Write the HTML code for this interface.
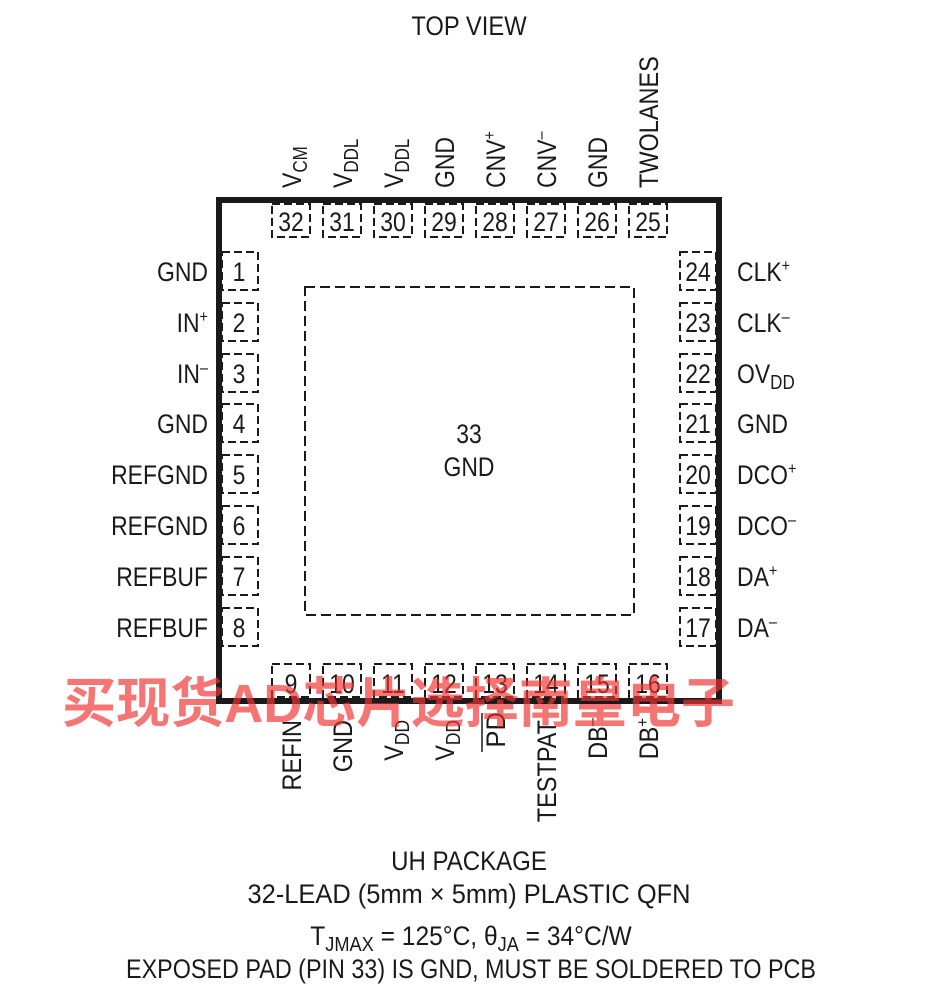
<!DOCTYPE html>
<html><head><meta charset="utf-8"><style>
html,body{margin:0;padding:0;background:#fff;}
svg{display:block;font-family:"Liberation Sans Narrow","Liberation Sans",sans-serif;}
text{fill:#1a1a1a;}
</style></head><body>
<svg width="930" height="1000" viewBox="0 0 930 1000" xmlns="http://www.w3.org/2000/svg">
<g font-size="27" transform="scale(0.88,1)">
<text x="532.95" y="35" text-anchor="middle">TOP VIEW</text>
</g>
<rect x="219" y="200" width="500" height="501" fill="none" stroke="#1a1a1a" stroke-width="6"/>
<rect x="305" y="287" width="329" height="328" fill="none" stroke="#1a1a1a" stroke-width="2" stroke-dasharray="10 5"/>
<g font-size="27" text-anchor="middle" transform="scale(0.85,1)">
<text x="551.76" y="443">33</text><text x="551.76" y="476">GND</text>
</g>
<g fill="none" stroke="#1a1a1a" stroke-width="2" stroke-dasharray="8 4">
<rect x="272" y="204" width="38" height="33"/><rect x="323" y="204" width="38" height="33"/><rect x="374" y="204" width="38" height="33"/><rect x="425" y="204" width="38" height="33"/><rect x="476" y="204" width="38" height="33"/><rect x="527" y="204" width="38" height="33"/><rect x="578" y="204" width="38" height="33"/><rect x="629" y="204" width="38" height="33"/>
<rect x="272" y="664" width="38" height="33"/><rect x="323" y="664" width="38" height="33"/><rect x="374" y="664" width="38" height="33"/><rect x="425" y="664" width="38" height="33"/><rect x="476" y="664" width="38" height="33"/><rect x="527" y="664" width="38" height="33"/><rect x="578" y="664" width="38" height="33"/><rect x="629" y="664" width="38" height="33"/>
<rect x="222" y="252" width="36" height="38"/><rect x="222" y="303" width="36" height="38"/><rect x="222" y="354" width="36" height="38"/><rect x="222" y="404" width="36" height="38"/><rect x="222" y="455" width="36" height="38"/><rect x="222" y="506" width="36" height="38"/><rect x="222" y="557" width="36" height="38"/><rect x="222" y="608" width="36" height="38"/>
<rect x="680" y="252" width="36" height="38"/><rect x="680" y="303" width="36" height="38"/><rect x="680" y="354" width="36" height="38"/><rect x="680" y="404" width="36" height="38"/><rect x="680" y="455" width="36" height="38"/><rect x="680" y="506" width="36" height="38"/><rect x="680" y="557" width="36" height="38"/><rect x="680" y="608" width="36" height="38"/>
</g>
<g font-size="27" text-anchor="middle" transform="scale(0.85,1)">
<text x="342.35" y="231">32</text><text x="402.35" y="231">31</text><text x="462.35" y="231">30</text><text x="522.35" y="231">29</text><text x="582.35" y="231">28</text><text x="642.35" y="231">27</text><text x="702.35" y="231">26</text><text x="762.35" y="231">25</text>
<text x="342.35" y="693">9</text><text x="402.35" y="693">10</text><text x="462.35" y="693">11</text><text x="522.35" y="693">12</text><text x="582.35" y="693">13</text><text x="642.35" y="693">14</text><text x="702.35" y="693">15</text><text x="762.35" y="693">16</text>
<text x="281.18" y="281">1</text><text x="281.18" y="332">2</text><text x="281.18" y="383">3</text><text x="281.18" y="433">4</text><text x="281.18" y="484">5</text><text x="281.18" y="535">6</text><text x="281.18" y="586">7</text><text x="281.18" y="637">8</text>
<text x="821.18" y="281">24</text><text x="821.18" y="332">23</text><text x="821.18" y="383">22</text><text x="821.18" y="433">21</text><text x="821.18" y="484">20</text><text x="821.18" y="535">19</text><text x="821.18" y="586">18</text><text x="821.18" y="637">17</text>
</g>
<g font-size="27" text-anchor="end" transform="scale(0.85,1)">
<text x="244.7" y="281">GND</text>
<text x="244.7" y="332">IN<tspan font-size="17" dy="-10">+</tspan></text>
<text x="244.7" y="383">IN<tspan font-size="17" dy="-10">–</tspan></text>
<text x="244.7" y="433">GND</text>
<text x="244.7" y="484">REFGND</text>
<text x="244.7" y="535">REFGND</text>
<text x="244.7" y="586">REFBUF</text>
<text x="244.7" y="637">REFBUF</text>
</g>
<g font-size="27" transform="scale(0.85,1)">
<text x="867.1" y="281">CLK<tspan font-size="17" dy="-10">+</tspan></text>
<text x="867.1" y="332">CLK<tspan font-size="17" dy="-10">–</tspan></text>
<text x="867.1" y="383">OV<tspan font-size="20" dy="6">DD</tspan></text>
<text x="867.1" y="433">GND</text>
<text x="867.1" y="484">DCO<tspan font-size="17" dy="-10">+</tspan></text>
<text x="867.1" y="535">DCO<tspan font-size="17" dy="-10">–</tspan></text>
<text x="867.1" y="586">DA<tspan font-size="17" dy="-10">+</tspan></text>
<text x="867.1" y="637">DA<tspan font-size="17" dy="-10">–</tspan></text>
</g>
<g font-size="27">
<text transform="translate(301,188) rotate(-90) scale(0.85,1)">V<tspan font-size="20" dy="6">CM</tspan></text>
<text transform="translate(352,188) rotate(-90) scale(0.85,1)">V<tspan font-size="20" dy="6">DDL</tspan></text>
<text transform="translate(403,188) rotate(-90) scale(0.85,1)">V<tspan font-size="20" dy="6">DDL</tspan></text>
<text transform="translate(454,188) rotate(-90) scale(0.85,1)">GND</text>
<text transform="translate(505,188) rotate(-90) scale(0.85,1)">CNV<tspan font-size="17" dy="-10">+</tspan></text>
<text transform="translate(556,188) rotate(-90) scale(0.85,1)">CNV<tspan font-size="17" dy="-10">–</tspan></text>
<text transform="translate(607,188) rotate(-90) scale(0.85,1)">GND</text>
<text transform="translate(658,188) rotate(-90) scale(0.87,1)">TWOLANES</text>
</g>
<g font-size="27" text-anchor="end">
<text transform="translate(301,720) rotate(-90) scale(0.87,1)">REFIN</text>
<text transform="translate(352,720) rotate(-90) scale(0.87,1)">GND</text>
<text transform="translate(403,720) rotate(-90) scale(0.87,1)">V<tspan font-size="20" dy="6">DD</tspan></text>
<text transform="translate(454,720) rotate(-90) scale(0.87,1)">V<tspan font-size="20" dy="6">DD</tspan></text>
<text transform="translate(505,712) rotate(-90) scale(0.95,1)">PD</text>
<text transform="translate(556,720) rotate(-90) scale(0.87,1)">TESTPAT</text>
<text transform="translate(607,718) rotate(-90) scale(0.87,1)">DB<tspan font-size="17" dy="-10">–</tspan></text>
<text transform="translate(658,718) rotate(-90) scale(0.87,1)">DB<tspan font-size="17" dy="-10">+</tspan></text>
</g>
<line x1="482" y1="713" x2="482" y2="752" stroke="#1a1a1a" stroke-width="1.5"/>
<g font-size="27" text-anchor="middle">
<text x="469" y="870" transform="translate(469,0) scale(0.89,1) translate(-469,0)">UH PACKAGE</text>
<text x="469" y="903" textLength="443" lengthAdjust="spacingAndGlyphs">32-LEAD (5mm × 5mm) PLASTIC QFN</text>
<text x="471" y="945" transform="translate(471,0) scale(0.91,1) translate(-471,0)">T<tspan font-size="20" dy="6">JMAX</tspan><tspan dy="-6"> = 125°C, θ</tspan><tspan font-size="20" dy="6">JA</tspan><tspan dy="-6"> = 34°C/W</tspan></text>
<text x="471" y="978" textLength="690" lengthAdjust="spacingAndGlyphs">EXPOSED PAD (PIN 33) IS GND, MUST BE SOLDERED TO PCB</text>
</g>
<text x="62" y="722" font-family="'Liberation Sans','Noto Sans CJK SC',sans-serif" font-weight="bold" font-size="54" textLength="673" lengthAdjust="spacingAndGlyphs" style="fill:rgba(240,50,50,0.68)">买现货AD芯片选择南皇电子</text>
</svg>
</body></html>
